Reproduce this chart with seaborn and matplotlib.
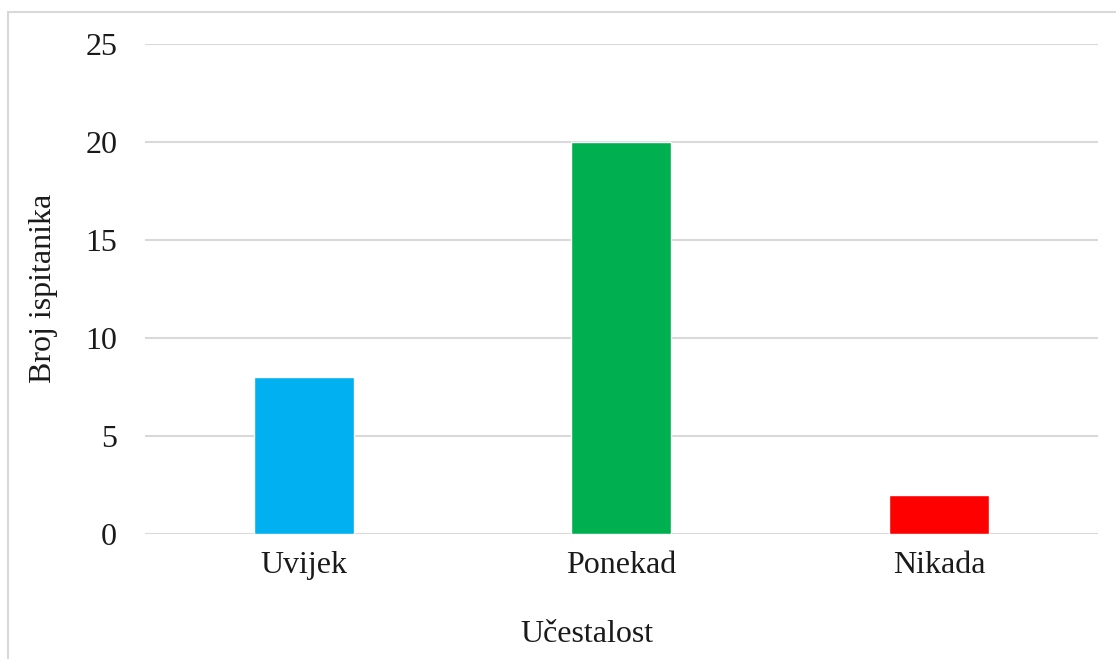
import pandas as pd
import seaborn as sns
import matplotlib.pyplot as plt
from matplotlib.patches import Rectangle

# data
categories = ['Uvijek', 'Ponekad', 'Nikada']
counts = [8, 20, 2]
bar_colors = ['#00B0F0', '#00B050', '#FF0000']
y_ticks = [0, 5, 10, 15, 20, 25]

df = pd.DataFrame({'Učestalost': categories, 'Broj ispitanika': counts})

sns.set_style('white')
plt.rcParams['font.family'] = ['Liberation Serif', 'DejaVu Serif']

fig = plt.figure(figsize=(11.16, 6.59), dpi=100)
ax = fig.add_axes([0.1299, 0.1897, 0.8539, 0.7435])

sns.barplot(data=df, x='Učestalost', y='Broj ispitanika', hue='Učestalost',
            palette=bar_colors, width=0.315, legend=False, ax=ax,
            saturation=1, zorder=3)

ax.set_ylim(0, 25)
ax.set_yticks(y_ticks)
ax.set_xlim(-0.5, 2.5)
ax.grid(axis='y', color='#D9D9D9', linewidth=1.5, zorder=0)
ax.grid(axis='x', visible=False)
for s in ax.spines.values():
    s.set_visible(False)
ax.tick_params(axis='y', length=0, pad=20, labelsize=23, labelcolor='#1a1a1a')
ax.tick_params(axis='x', length=0, pad=12, labelsize=23, labelcolor='#1a1a1a')

ax.set_xlabel('Učestalost', fontsize=23, color='#1a1a1a')
ax.set_ylabel('Broj ispitanika', fontsize=23, color='#1a1a1a')
ax.xaxis.label.set_verticalalignment('center')
ax.yaxis.label.set_verticalalignment('center')
ax.xaxis.set_label_coords(0.464, -0.206)
ax.yaxis.set_label_coords(-0.107, 0.502)

# thin light frame around the chart area (cropped at right and bottom)
fig.patches.append(Rectangle((8 / 1116, -0.1), 1.2, 1 - 12 / 659 + 0.1,
                             transform=fig.transFigure, fill=False,
                             edgecolor='#D9D9D9', linewidth=1.5))

fig.savefig('out.png', dpi=100)
